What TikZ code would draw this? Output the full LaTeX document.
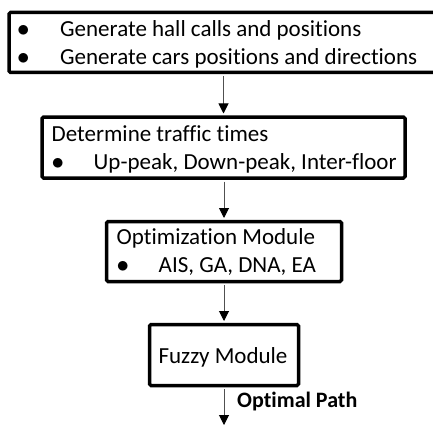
\documentclass[tikz,border=0pt]{standalone}
\usepackage{fontspec}
\setmainfont[Ligatures={NoCommon}]{Carlito}
\usetikzlibrary{arrows.meta}
\definecolor{conncol}{RGB}{80,80,80}
\newcommand{\bul}[1]{\makebox[#1][l]{$\bullet$}}
\newcommand{\twolines}[2]{\begin{tabular}[t]{@{}l@{}}#1\\#2\end{tabular}}
\tikzset{
  box/.style={draw=black, line width=3.5pt, rounded corners=1.5pt, inner sep=0pt, fill=white},
  txt/.style={anchor=base west, inner sep=0pt, font=\fontsize{23}{28.5}\selectfont},
  conn/.style={draw=conncol, line width=1pt, -{Triangle[width=10pt,length=10pt,fill=black,color=black]}},
}
\begin{document}
\begin{tikzpicture}[x=1pt,y=-1pt]
\useasboundingbox (0,0) rectangle (433,425);
\clip (0,0) rectangle (433,425);
% boxes
\node[box, minimum width=427pt, minimum height=60pt] (b1) at (222.5,42.5) {};
\node[box, minimum width=363pt, minimum height=61pt] (b2) at (223.5,147.5) {};
\node[box, minimum width=235pt, minimum height=60pt] (b3) at (224,251.5) {};
\node[box, minimum width=149pt, minimum height=61pt] (b4) at (224,355) {};
% texts
\node[txt] (t1) at (17,36.5)
  {\twolines{\bul{43pt}Generate hall calls and positions}{\bul{43pt}Generate cars positions and directions}};
\node[txt] (t2) at (51.5,141)
  {\twolines{Determine traffic times}{\bul{42pt}Up-peak, Down-peak, Inter-floor}};
\node[txt] (t3) at (116.5,244)
  {\twolines{Optimization Module}{\bul{42pt}AIS, GA, DNA, EA}};
\node[txt, anchor=base] (t4) at (223,363) {Fuzzy Module};
% connectors
\coordinate (end) at (224,425);
\draw[conn, shorten <=1.75pt, shorten >=1.75pt] (b1.south -| b2.north) -- (b2.north);
\draw[conn, shorten <=1.75pt, shorten >=1.75pt] (b2.south -| b3.north) -- (b3.north);
\draw[conn, shorten <=1.75pt, shorten >=1.75pt] (b3.south) -- (b4.north);
\draw[conn, shorten <=1.75pt] (b4.south) -- (end);
\node[txt, font=\fontsize{22}{26}\selectfont\bfseries] (lbl) at (237,407) {Optimal Path};
\end{tikzpicture}
\end{document}
